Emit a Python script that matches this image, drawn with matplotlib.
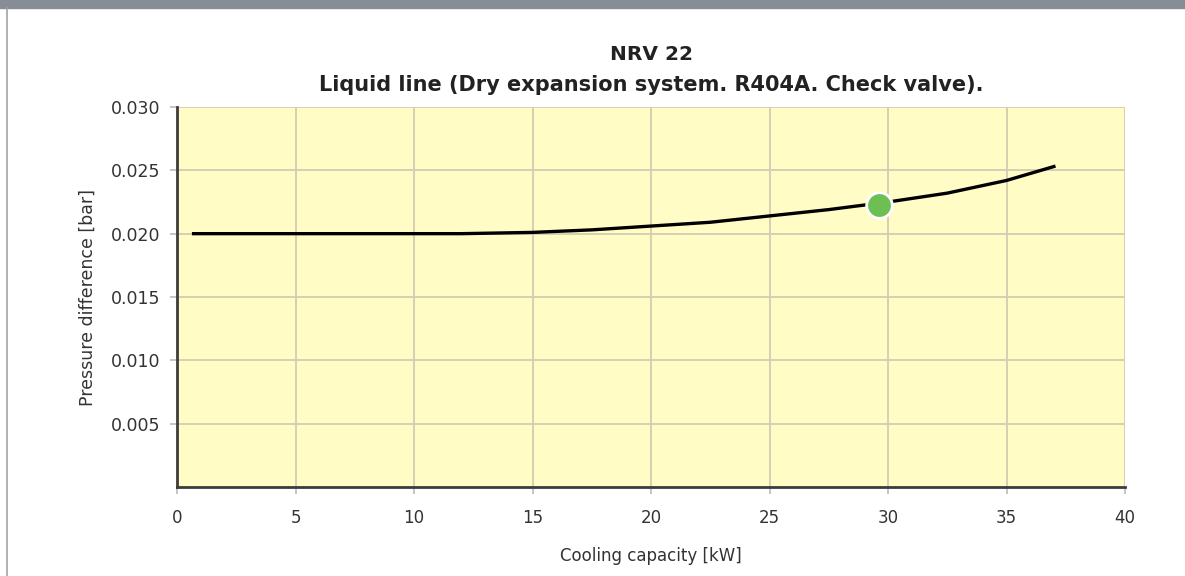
import matplotlib.pyplot as plt
from matplotlib.patches import Rectangle
from matplotlib.lines import Line2D

plt.rcParams["font.family"] = ["DejaVu Sans"]

# curve
capacity = [0.7, 5, 10, 12, 15, 17.5, 20, 22.5, 25, 27.5, 30, 32.5, 35, 37]
pressure = [0.0200, 0.0200, 0.0200, 0.0200, 0.0201, 0.0203, 0.0206, 0.0209,
            0.0214, 0.0219, 0.0225, 0.0232, 0.0242, 0.0253]
point_x = [29.6]
point_y = [0.0223]

x_ticks = [0, 5, 10, 15, 20, 25, 30, 35, 40]
y_ticks = [0.005, 0.010, 0.015, 0.020, 0.025, 0.030]

fig = plt.figure(figsize=(11.85, 5.76), dpi=100)
fig.patches.append(Rectangle((0, 1 - 8 / 576), 1, 8 / 576, transform=fig.transFigure,
                             color="#878d94", zorder=0))
fig.lines.append(Line2D([7 / 1185, 7 / 1185], [0, 1 - 8 / 576], transform=fig.transFigure,
                        color="#a0a4a8", linewidth=1.2))

ax = fig.add_axes([177 / 1185, 1 - 487 / 576, 948 / 1185, 380 / 576])
ax.set_facecolor("#fffcc6")

ax.plot(capacity, pressure, color="black", linewidth=2.4, zorder=3)
ax.scatter(point_x, point_y, s=340, color="#6dbf53", edgecolors="white",
           linewidths=2, zorder=4)

ax.set_xlim(0, 40)
ax.set_ylim(0, 0.030)
ax.set_xticks(x_ticks)
ax.set_yticks(y_ticks)
ax.set_yticklabels([f"{v:.3f}" for v in y_ticks])
ax.grid(True, color="#d2cdb0", linewidth=1.3)
ax.set_axisbelow(True)

for s in ["top", "right"]:
    ax.spines[s].set_visible(False)
for s in ["left", "bottom"]:
    ax.spines[s].set_color("#3c3c3c")
    ax.spines[s].set_linewidth(2)

ax.tick_params(axis="both", colors="#bbbbbb", labelcolor="#333333",
               length=5, width=1.2)
ax.tick_params(axis="y", labelsize=12.5, pad=7)
ax.tick_params(axis="x", labelsize=12, pad=11)

ax.set_xlabel("Cooling capacity [kW]", fontsize=12, color="#333333", labelpad=1)
ax.set_ylabel("Pressure difference [bar]", fontsize=12.5, color="#333333", labelpad=10)
ax.xaxis.set_label_coords(0.5, -60 / 380)

fig.text(651 / 1185, 1 - 55 / 576, "NRV 22", ha="center", va="center",
         fontsize=14.5, fontweight="bold", color="#222222")
fig.text(651 / 1185, 1 - 85 / 576,
         "Liquid line (Dry expansion system. R404A. Check valve).",
         ha="center", va="center", fontsize=15, fontweight="bold", color="#222222")

plt.savefig("out.png", dpi=100)
